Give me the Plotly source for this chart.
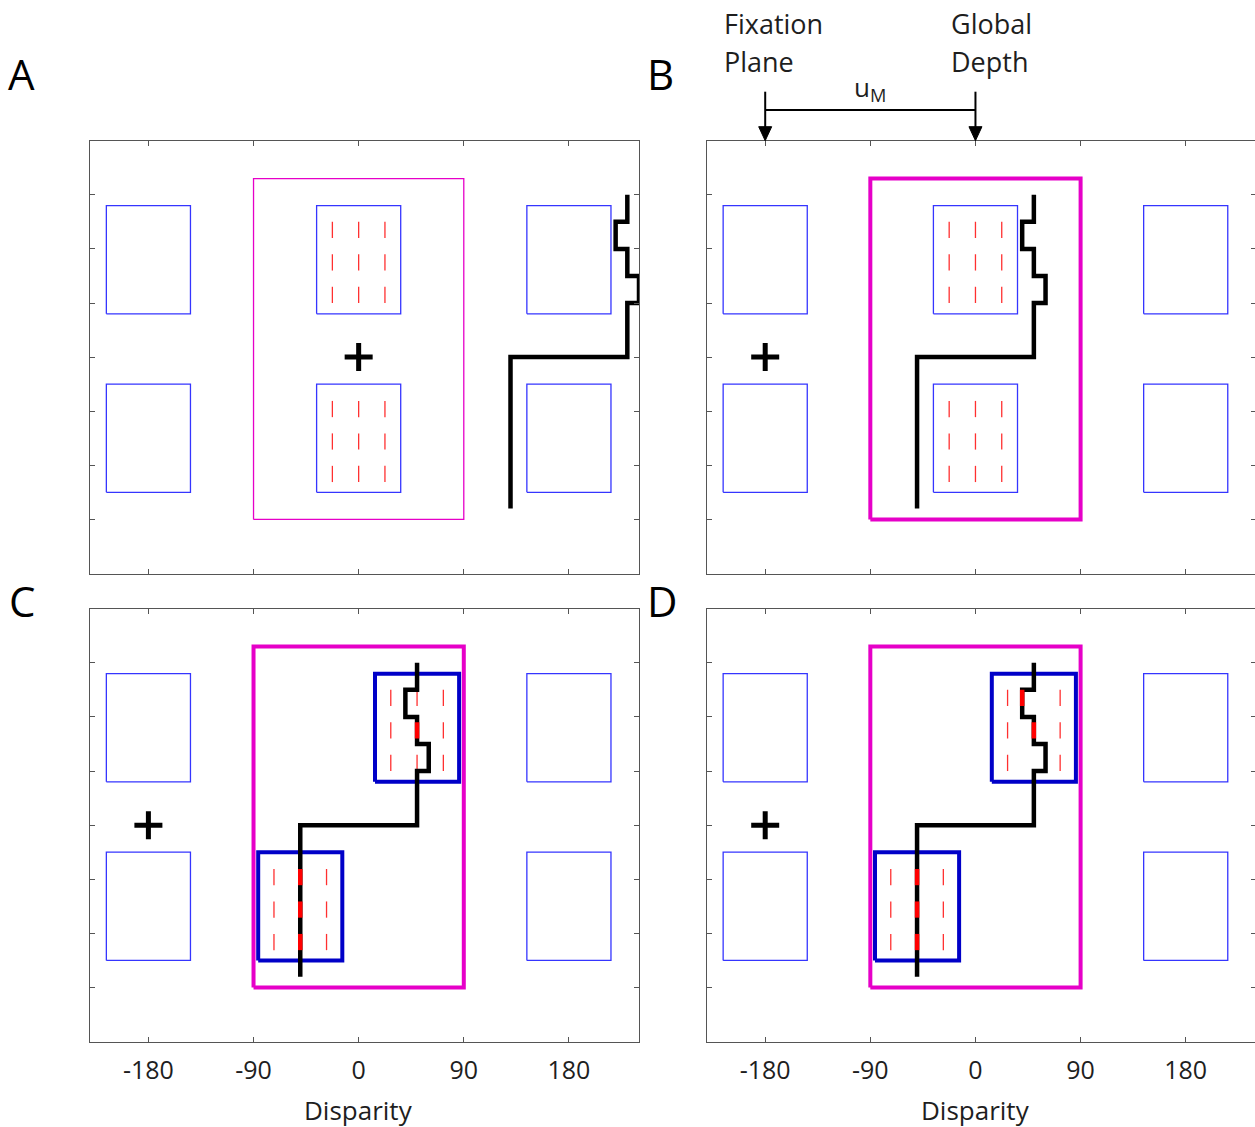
import plotly.graph_objects as go

# ---------------- data ----------------
x_ticks = [-180, -90, 0, 90, 180]
x_tick_labels = ["-180", "-90", "0", "90", "180"]
y_ticks = [-3, -2, -1, 0, 1, 2, 3]
x_range = [-230, 240]
y_range = [-4, 4]

panels = ["A", "B", "C", "D"]

# stimulus patches
patch_halfwidth = 36
upper_patch_y = [0.8, 2.8]
lower_patch_y = [-2.5, -0.5]
thin_patch_centers = {"A": [-180, 0, 180], "B": [-180, 0, 180], "C": [-180, 180], "D": [-180, 180]}
textured_upper_center = {"A": 0, "B": 0, "C": 50, "D": 50}
textured_lower_center = {"A": 0, "B": 0, "C": -50, "D": -50}
thick_patch = {"A": False, "B": False, "C": True, "D": True}

# red texture dashes inside the textured patches
dash_offsets = [-22.5, 0, 22.5]
upper_dash_rows = [2.35, 1.75, 1.15]
lower_dash_rows = [-0.96, -1.56, -2.16]
dash_halflen = 0.15
upper_mid_shift = {"A": [0, 0, 0], "B": [0, 0, 0], "C": [0, 0, 0], "D": [-10, 0, 10]}

# integration window (magenta)
window_x = [-90, 90]
window_y = [-3.0, 3.3]
window_thick = {"A": False, "B": True, "C": True, "D": True}

# disparity profile (black line)
profile_x = [50, 50, 40, 40, 50, 50, 60, 60, 50, 50, -50, -50]
profile_y = [3.0, 2.5, 2.5, 2.0, 2.0, 1.5, 1.5, 1.0, 1.0, 0.0, 0.0, -2.8]
profile_shift = {"A": 180, "B": 0, "C": 0, "D": 0}

# fixation cross position
fixation_x = {"A": 0, "B": -180, "C": -180, "D": -180}
fixation_y = 0

# annotation values for panel B
fixation_plane = -180
global_depth = 0

# ---------------- styles ----------------
BLUE_THIN = "#3535ff"
BLUE_THICK = "#0000c8"
RED = "#ff3030"
MAGENTA = "#e600c8"
AX = "#555555"
TXT = "#1e1e1e"
FONT = "Open Sans"

axes_ids = {"A": ("x", "y"), "B": ("x2", "y2"), "C": ("x3", "y3"), "D": ("x4", "y4")}

fig = go.Figure()


def rect_path(cx_list, hw, ylo, yhi):
    xs, ys = [], []
    for cx in cx_list:
        xs += [cx - hw, cx + hw, cx + hw, cx - hw, cx - hw, None]
        ys += [ylo, ylo, yhi, yhi, ylo, None]
    return xs, ys


for p in panels:
    xa, ya = axes_ids[p]
    # magenta window
    wx = [window_x[0], window_x[1], window_x[1], window_x[0], window_x[0]]
    wy = [window_y[0], window_y[0], window_y[1], window_y[1], window_y[0]]
    fig.add_trace(go.Scatter(x=wx, y=wy, mode="lines", xaxis=xa, yaxis=ya,
                             line=dict(color=MAGENTA, width=4 if window_thick[p] else 1.3),
                             hoverinfo="skip"))
    # thin patches
    xs, ys = [], []
    for (ylo, yhi) in [upper_patch_y, lower_patch_y]:
        a, b = rect_path(thin_patch_centers[p], patch_halfwidth, ylo, yhi)
        xs += a
        ys += b
    fig.add_trace(go.Scatter(x=xs, y=ys, mode="lines", xaxis=xa, yaxis=ya,
                             line=dict(color=BLUE_THIN, width=1.3), hoverinfo="skip"))
    # thick textured patches
    if thick_patch[p]:
        a1, b1 = rect_path([textured_upper_center[p]], patch_halfwidth, *upper_patch_y)
        a2, b2 = rect_path([textured_lower_center[p]], patch_halfwidth, *lower_patch_y)
        fig.add_trace(go.Scatter(x=a1 + a2, y=b1 + b2, mode="lines", xaxis=xa, yaxis=ya,
                                 line=dict(color=BLUE_THICK, width=4), hoverinfo="skip"))
    # dashes
    dashes = []
    for i, yc in enumerate(upper_dash_rows):
        for off in dash_offsets:
            sh = upper_mid_shift[p][i] if off == 0 else 0
            dashes.append((textured_upper_center[p] + off + sh, yc))
    for yc in lower_dash_rows:
        for off in dash_offsets:
            dashes.append((textured_lower_center[p] + off, yc))
    dx, dy = [], []
    for (x0, yc) in dashes:
        dx += [x0, x0, None]
        dy += [yc - dash_halflen, yc + dash_halflen, None]
    fig.add_trace(go.Scatter(x=dx, y=dy, mode="lines", xaxis=xa, yaxis=ya,
                             line=dict(color=RED, width=1.3), hoverinfo="skip"))
    # profile
    px = [v + profile_shift[p] for v in profile_x]
    fig.add_trace(go.Scatter(x=px, y=profile_y, mode="lines", xaxis=xa, yaxis=ya,
                             line=dict(color="black", width=4.5), hoverinfo="skip"))
    # red where the profile passes through a dash
    rx, ry = [], []
    for (x0, yc) in dashes:
        for k in range(len(px) - 1):
            if px[k] == x0 and px[k + 1] == x0:
                lo, hi = sorted([profile_y[k], profile_y[k + 1]])
                if lo <= yc - dash_halflen and hi >= yc + dash_halflen:
                    rx += [x0, x0, None]
                    ry += [yc - dash_halflen, yc + dash_halflen, None]
    if rx:
        fig.add_trace(go.Scatter(x=rx, y=ry, mode="lines", xaxis=xa, yaxis=ya,
                                 line=dict(color="#ff0000", width=4.5), hoverinfo="skip"))
    # fixation cross
    fig.add_trace(go.Scatter(x=[fixation_x[p]], y=[fixation_y], mode="markers", xaxis=xa, yaxis=ya,
                             marker=dict(symbol="cross-thin", size=20,
                                         line=dict(color="black", width=5)),
                             hoverinfo="skip"))

W, H = 1258, 1127   # 3 px wider than the window so the clipped right frame of B/D falls outside
left_A, right_A = 90 / W, 639 / W
left_B, right_B = 706.8 / W, 1255.8 / W
top_dom = [1 - 573.5 / H, 1 - 140.7 / H]
bot_dom = [1 - 1041.6 / H, 1 - 608.7 / H]


def xaxis(domain, labels, anchor):
    return dict(domain=domain, range=x_range, anchor=anchor, tickvals=x_ticks, ticktext=x_tick_labels,
                showgrid=False, zeroline=False,
                showline=True, linecolor=AX, linewidth=1, mirror="ticks", ticks="inside",
                ticklen=5, tickcolor=AX, tickwidth=1, showticklabels=labels,
                ticklabelstandoff=6, tickfont=dict(family=FONT, size=25, color=TXT))


def yaxis(domain, anchor):
    return dict(domain=domain, range=y_range, anchor=anchor, tickvals=y_ticks, showgrid=False,
                zeroline=False, showline=True, linecolor=AX, linewidth=1, mirror="ticks",
                ticks="inside", ticklen=5, tickcolor=AX, tickwidth=1, showticklabels=False)


fig.update_layout(
    width=W, height=H, margin=dict(l=0, r=0, t=0, b=0),
    plot_bgcolor="white", paper_bgcolor="white", showlegend=False,
    xaxis=xaxis([left_A, right_A], False, "y"),
    yaxis=yaxis(top_dom, "x"),
    xaxis2=xaxis([left_B, right_B], False, "y2"),
    yaxis2=yaxis(top_dom, "x2"),
    xaxis3=xaxis([left_A, right_A], True, "y3"),
    yaxis3=yaxis(bot_dom, "x3"),
    xaxis4=xaxis([left_B, right_B], True, "y4"),
    yaxis4=yaxis(bot_dom, "x4"),
)

# x-axis titles, centred on zero disparity
for xr in ["x3", "x4"]:
    fig.add_annotation(text="Disparity", x=0, xref=xr, y=1 - 1110 / H, yref="paper",
                       xanchor="center", yanchor="middle", showarrow=False,
                       font=dict(family=FONT, size=26, color=TXT))

# panel letters
letters = [("A", 21, 73), ("B", 660, 73), ("C", 22, 600), ("D", 662, 600)]
for t, lx, ly in letters:
    fig.add_annotation(text=t, x=lx / W, y=1 - ly / H, xref="paper", yref="paper",
                       xanchor="center", yanchor="middle", showarrow=False,
                       font=dict(family=FONT, size=42, color="black"))

# labels above panel B
for t, lx, ly in [("Fixation", 722, 23), ("Plane", 722, 61), ("Global", 949, 23), ("Depth", 949, 61)]:
    fig.add_annotation(text=t, x=lx / W, y=1 - ly / H, xref="paper", yref="paper",
                       xanchor="left", yanchor="middle", showarrow=False,
                       font=dict(family=FONT, size=27, color=TXT))

# arrows (pixel-sized shapes anchored at the data positions on panel B's top edge)
tip_y = 1 - 140.7 / H
for xv in [fixation_plane, global_depth]:
    fig.add_shape(type="line", xref="x2", yref="paper", xsizemode="pixel", ysizemode="pixel",
                  xanchor=xv, yanchor=tip_y, x0=0, x1=0, y0=12, y1=49,
                  line=dict(color="black", width=2))
    fig.add_shape(type="path", xref="x2", yref="paper", xsizemode="pixel", ysizemode="pixel",
                  xanchor=xv, yanchor=tip_y, path="M -6.5,14 L 6.5,14 L 0,0 Z",
                  fillcolor="black", line=dict(color="black", width=1))

fig.add_shape(type="line", x0=fixation_plane, x1=global_depth, xref="x2",
              y0=1 - 110 / H, y1=1 - 110 / H, yref="paper", line=dict(color="black", width=2))
fig.add_annotation(text="u<sub>M</sub>", x=(fixation_plane + global_depth) / 2, xref="x2",
                   y=1 - 88 / H, yref="paper", xanchor="center", yanchor="middle", showarrow=False,
                   font=dict(family=FONT, size=26, color=TXT))

fig.write_html("out.html", config={"displayModeBar": False},
               post_script="document.body.style.margin='0px';document.body.style.overflow='hidden';")
